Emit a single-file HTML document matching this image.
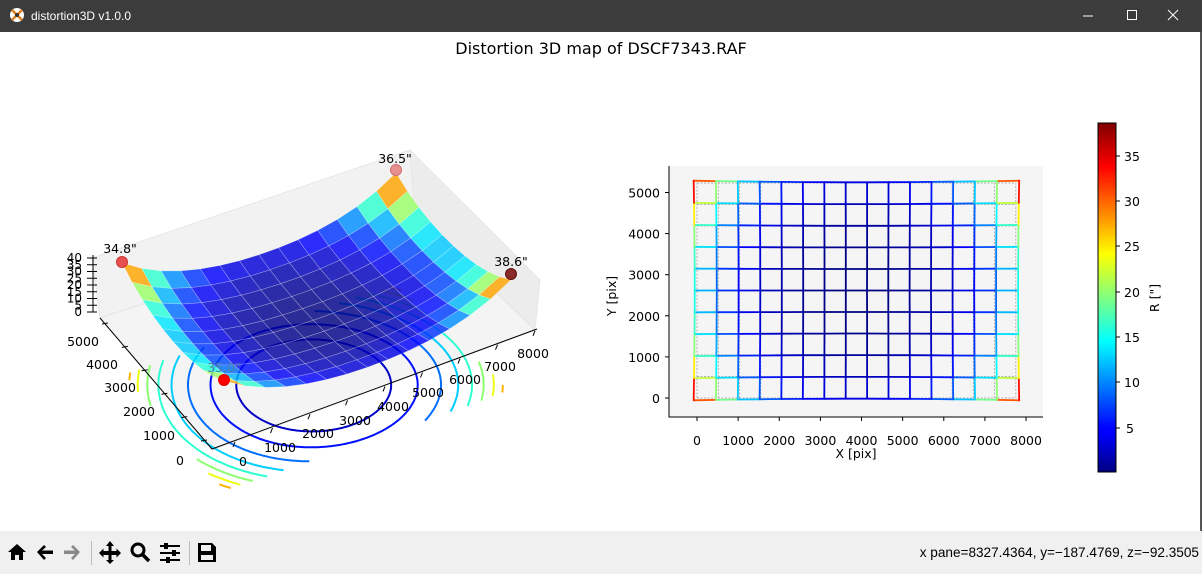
<!DOCTYPE html>
<html><head><meta charset="utf-8">
<style>
html,body{margin:0;padding:0;width:1202px;height:574px;overflow:hidden;background:#fff;font-family:"Liberation Sans","DejaVu Sans",sans-serif;}
#tb{position:absolute;left:0;top:0;width:1202px;height:32px;background:#3c3c3c;color:#fff;font-size:12px;}
#bot{position:absolute;left:0;top:531px;width:1202px;height:43px;background:#f0f0f0;}
svg text{font-family:"DejaVu Sans","Liberation Sans",sans-serif;}
</style></head><body>
<div id="tb">
<svg width="1202" height="32" style="position:absolute;left:0;top:0">
<circle cx="17" cy="15" r="7" fill="#fff"/>
<path d="M12 10 L22 20 M22 10 L12 20" stroke="#e08020" stroke-width="2.5"/>
<circle cx="17" cy="15" r="2" fill="#333"/>
<text x="31" y="20" fill="#fff" font-size="12" style="font-family:'Liberation Sans',sans-serif">distortion3D v1.0.0</text>
<line x1="1083" y1="16" x2="1093" y2="16" stroke="#fff" stroke-width="1"/>
<rect x="1127.5" y="10.5" width="9" height="9" fill="none" stroke="#fff"/>
<path d="M1168 10 L1178 20 M1178 10 L1168 20" stroke="#fff" stroke-width="1"/>
</svg></div>
<div style="position:absolute;left:1200px;top:32px;width:2px;height:500px;background:#555"></div>
<svg id="main" width="1202" height="574" style="position:absolute;left:0;top:0">
<text x="601" y="54" text-anchor="middle" font-size="16">Distortion 3D map of DSCF7343.RAF</text>
<g id="g3d"></g>
<g id="g2d"></g>
<defs><linearGradient id="jet" x1="0" y1="1" x2="0" y2="0">
<stop offset="0" stop-color="#000080"/><stop offset="0.11" stop-color="#0000ff"/><stop offset="0.125" stop-color="#0000ff"/>
<stop offset="0.375" stop-color="#00ffff"/><stop offset="0.5" stop-color="#80ff80"/><stop offset="0.625" stop-color="#ffff00"/>
<stop offset="0.875" stop-color="#ff0000"/><stop offset="1" stop-color="#800000"/></linearGradient></defs>
<rect x="1098" y="123" width="18" height="349" fill="url(#jet)" stroke="#000" stroke-width="1"/>
<g font-size="12.5">
<line x1="1116" y1="156" x2="1120" y2="156" stroke="#000"/><text x="1124" y="161">35</text>
<line x1="1116" y1="201" x2="1120" y2="201" stroke="#000"/><text x="1124" y="206">30</text>
<line x1="1116" y1="246" x2="1120" y2="246" stroke="#000"/><text x="1124" y="251">25</text>
<line x1="1116" y1="292" x2="1120" y2="292" stroke="#000"/><text x="1124" y="297">20</text>
<line x1="1116" y1="337" x2="1120" y2="337" stroke="#000"/><text x="1124" y="342">15</text>
<line x1="1116" y1="382" x2="1120" y2="382" stroke="#000"/><text x="1124" y="387">10</text>
<line x1="1116" y1="428" x2="1120" y2="428" stroke="#000"/><text x="1126" y="433">5</text>
<text transform="translate(1159,298) rotate(-90)" text-anchor="middle">R ["]</text>
</g>
</svg>
<div id="bot">
<svg width="1202" height="43" style="position:absolute;left:0;top:0">
<g fill="#000">
<path d="M8 21 L17 13 L26 21 L23 21 L23 29 L19 29 L19 24 L15 24 L15 29 L11 29 L11 21 Z"/>
<path d="M37 21 L44 14 L46 16 L42 19.5 L53 19.5 L53 23 L42 23 L46 27 L44 29 Z"/>
<path d="M64 19.5 L75 19.5 L71 16 L73 14 L80 21 L73 29 L71 27 L75 23 L64 23 Z" fill="#888"/>
<rect x="91" y="10" width="1" height="24" fill="#bbb"/>
<path d="M110 10 L114 15 L111.5 15 L111.5 20 L116.5 20 L116.5 17.5 L121 22 L116.5 26.5 L116.5 24 L111.5 24 L111.5 29 L114 29 L110 33 L106 29 L108.5 29 L108.5 24 L103.5 24 L103.5 26.5 L99 22 L103.5 17.5 L103.5 20 L108.5 20 L108.5 15 L106 15 Z"/>
<circle cx="138" cy="19" r="6" fill="none" stroke="#000" stroke-width="3"/>
<path d="M142 23 L149 30" stroke="#000" stroke-width="3.5"/>
<g stroke="#000" stroke-width="2"><line x1="160" y1="15" x2="180" y2="15"/><line x1="160" y1="22" x2="180" y2="22"/><line x1="160" y1="29" x2="180" y2="29"/></g>
<rect x="164" y="12" width="4" height="6"/><rect x="172" y="19" width="4" height="6"/><rect x="166" y="26" width="4" height="6"/>
<rect x="189" y="10" width="1" height="24" fill="#bbb"/>
<path d="M198 12 L212 12 L216 16 L216 31 L198 31 Z M201 14 L201 20 L211 20 L211 14 Z M201 24 L201 29 L213 29 L213 24 Z" fill-rule="evenodd"/>
</g>
<text x="1199" y="26" text-anchor="end" font-size="13.6" style="font-family:'Liberation Sans',sans-serif">x pane=8327.4364, y=−187.4769, z=−92.3505</text>
</svg></div>
<script>
var NS="http://www.w3.org/2000/svg";
function el(p,t,a){var e=document.createElementNS(NS,t);for(var k in a)e.setAttribute(k,a[k]);p.appendChild(e);return e;}
function cl(x){return Math.max(0,Math.min(1,x));}
function jet(t){t=cl(t);var r=cl(1.5-Math.abs(4*t-3)),g=cl(1.5-Math.abs(4*t-2)),b=cl(1.5-Math.abs(4*t-1));
return "rgb("+Math.round(r*255)+","+Math.round(g*255)+","+Math.round(b*255)+")";}
var W=7752,H=5232,CX=W/2,CY=H/2,RC=Math.sqrt(CX*CX+CY*CY);
function q2f(X,Y){return ((X-CX)*(X-CX)+(Y-CY)*(Y-CY))/(RC*RC);}
function zf(X,Y){var q2=q2f(X,Y);return 36*(0.45*q2+0.5*q2*q2);}
function cq(q2){return 36*(0.25*q2+0.25*q2*q2+0.6*q2*q2*q2*q2);}
function zc(X,Y){return cq(q2f(X,Y));}
var VMAX=38.6;
// ---------- 3D ----------
var g3=document.getElementById("g3d");
el(g3,"polygon",{points:"92,258 100,318 415,215 410,150",fill:"#f2f2f2",stroke:"#e6e6e6"});
el(g3,"polygon",{points:"410,150 415,215 535,330 540,280",fill:"#ececec",stroke:"#e6e6e6"});
el(g3,"polygon",{points:"100,318 212,450 535,330 415,215",fill:"#f4f4f4",stroke:"#e6e6e6"});
var F00=[224,427],F10=[511,326],F01=[122,309],F11=[396,219];
function P(u,v,z){var x=F00[0]*(1-u)*(1-v)+F10[0]*u*(1-v)+F01[0]*(1-u)*v+F11[0]*u*v;
var y=F00[1]*(1-u)*(1-v)+F10[1]*u*(1-v)+F01[1]*(1-u)*v+F11[1]*u*v;return [x,y-1.35*z];}
var levels=[3,6,10,14,18,22,26,30,33,35.5];
levels.forEach(function(L){
 var lo=0,hi=2;for(var i=0;i<40;i++){var m=(lo+hi)/2;if(36*(0.45*m+0.5*m*m)<L)lo=m;else hi=m;}
 var r=Math.sqrt(lo)*RC;var pts=[],segs=[];
 for(var k=0;k<=360;k++){var th=k*Math.PI/180;var X=CX+r*Math.cos(th),Y=CY+r*Math.sin(th);
  if(X>=0&&X<=W&&Y>=0&&Y<=H){var p=P(X/W,Y/H,-48);pts.push(p[0].toFixed(1)+","+p[1].toFixed(1));}
  else{if(pts.length>1)segs.push(pts);pts=[];}}
 if(pts.length>1)segs.push(pts);
 segs.forEach(function(s){el(g3,"polyline",{points:s.join(" "),fill:"none",stroke:jet(0.9*L/VMAX),"stroke-width":2});});
});
el(g3,"line",{x1:212,y1:449,x2:537,y2:329,stroke:"#000","stroke-width":1});
el(g3,"line",{x1:212,y1:449,x2:100,y2:318,stroke:"#000","stroke-width":1});
el(g3,"line",{x1:93,y1:255,x2:93,y2:312,stroke:"#000","stroke-width":1});
for(var i=0;i<9;i++){var x=235+i*37.5,y=442-i*13.9;el(g3,"line",{x1:x,y1:y,x2:x-2,y2:y+5,stroke:"#000"});}
for(var i=0;i<6;i++){var x=207-i*19.8,y=440-i*23.4;el(g3,"line",{x1:x,y1:y,x2:x-6,y2:y+1,stroke:"#000"});}
for(var i=0;i<9;i++){var y=312-i*6.75;el(g3,"line",{x1:87,y1:y,x2:97,y2:y,stroke:"#000"});}
var NU=14,NV=10,cells=[];
for(var i=0;i<NU;i++)for(var j=0;j<NV;j++)cells.push([i,j]);
cells.sort(function(a,b){return (b[0]/NU+b[1]/NV)-(a[0]/NU+a[1]/NV);});
cells.forEach(function(c){var i=c[0],j=c[1];var q=[[i,j],[i+1,j],[i+1,j+1],[i,j+1]];
 var s=q.map(function(t){var u=t[0]/NU,v=t[1]/NV;var p=P(u,v,zf(u*W,v*H));return p[0].toFixed(1)+","+p[1].toFixed(1);}).join(" ");
 var z=zc((i+.5)/NU*W,(j+.5)/NV*H)*1.1;
 el(g3,"polygon",{points:s,fill:jet(z/VMAX),"fill-opacity":0.82,stroke:"rgba(255,255,255,0.35)","stroke-width":0.6});});
el(g3,"circle",{cx:396,cy:170,r:5.5,fill:"#e89090",stroke:"#d07070"});
el(g3,"circle",{cx:122,cy:262,r:5.5,fill:"#e85050",stroke:"#d03030"});
el(g3,"circle",{cx:511,cy:274,r:5.5,fill:"#8a2a2a",stroke:"#601010"});
el(g3,"circle",{cx:224,cy:380,r:5.5,fill:"#ff0000",stroke:"#e00000"});
function tx(p,x,y,s,o){var e=el(p,"text",o||{});e.setAttribute("x",x);e.setAttribute("y",y);e.textContent=s;return e;}
tx(g3,395,163,'36.5"',{"text-anchor":"middle","font-size":12.5});
tx(g3,120,253,'34.8"',{"text-anchor":"middle","font-size":12.5});
tx(g3,511,266,'38.6"',{"text-anchor":"middle","font-size":12.5});
tx(g3,224,372,'35.0"',{"text-anchor":"middle","font-size":12.5,fill:"#4a7fa0"});
var xl=[[243,466,"0"],[280,452,"1000"],[318,438,"2000"],[355,425,"3000"],[393,411,"4000"],[428,397,"5000"],[465,384,"6000"],[500,371,"7000"],[533,358,"8000"]];
xl.forEach(function(a){tx(g3,a[0],a[1],a[2],{"text-anchor":"middle","font-size":12.5});});
var yl=[[180,465,"0"],[159,440,"1000"],[139,416,"2000"],[120,392,"3000"],[102,369,"4000"],[83,346,"5000"]];
yl.forEach(function(a){tx(g3,a[0],a[1],a[2],{"text-anchor":"middle","font-size":12.5});});
var zl=["0","5","10","15","20","25","30","35","40"];
zl.forEach(function(s,i){tx(g3,82,316-i*6.75,s,{"text-anchor":"end","font-size":12});});
// ---------- 2D ----------
var g2=document.getElementById("g2d");
el(g2,"rect",{x:669,y:166,width:374,height:251,fill:"#f5f5f5"});
function SX(X){return 697+X*0.04113;}function SY(Y){return 398-Y*0.0411;}
var NC=15,NR=10;
for(var i=0;i<=NC;i++){var X=i*W/NC;el(g2,"line",{x1:SX(X),y1:SY(0),x2:SX(X),y2:SY(H),stroke:"#999","stroke-width":0.7,"stroke-dasharray":"2,1.5"});}
for(var j=0;j<=NR;j++){var Y=j*H/NR;el(g2,"line",{x1:SX(0),y1:SY(Y),x2:SX(W),y2:SY(Y),stroke:"#999","stroke-width":0.7,"stroke-dasharray":"2,1.5"});}
function D(X,Y){var q2=q2f(X,Y);var k=1+0.021*q2;return [SX(CX+(X-CX)*k),SY(CY+(Y-CY)*k)];}
function seg(X1,Y1,X2,Y2){var a=D(X1,Y1),b=D(X2,Y2);var z=zc((X1+X2)/2,(Y1+Y2)/2);
 el(g2,"line",{x1:a[0].toFixed(1),y1:a[1].toFixed(1),x2:b[0].toFixed(1),y2:b[1].toFixed(1),stroke:jet(z/VMAX),"stroke-width":1.8,"stroke-linecap":"round"});}
for(var j=0;j<=NR;j++)for(var i=0;i<NC;i++)seg(i*W/NC,j*H/NR,(i+1)*W/NC,j*H/NR);
for(var i=0;i<=NC;i++)for(var j=0;j<NR;j++)seg(i*W/NC,j*H/NR,i*W/NC,(j+1)*H/NR);
el(g2,"line",{x1:669,y1:166,x2:669,y2:417.5,stroke:"#000","stroke-width":1});
el(g2,"line",{x1:668.5,y1:417,x2:1043,y2:417,stroke:"#000","stroke-width":1});
for(var i=0;i<=8;i++){var x=SX(i*1000);el(g2,"line",{x1:x,y1:417,x2:x,y2:421,stroke:"#000"});tx(g2,x,445,String(i*1000),{"text-anchor":"middle","font-size":12.5});}
for(var j=0;j<=5;j++){var y=SY(j*1000);el(g2,"line",{x1:665,y1:y,x2:669,y2:y,stroke:"#000"});tx(g2,660,y+5,String(j*1000),{"text-anchor":"end","font-size":12.5});}
tx(g2,856,458,"X [pix]",{"text-anchor":"middle","font-size":12.5});
tx(g2,0,0,"Y [pix]",{"text-anchor":"middle","font-size":12.5,transform:"translate(616,296) rotate(-90)"});
</script>
</body></html>
